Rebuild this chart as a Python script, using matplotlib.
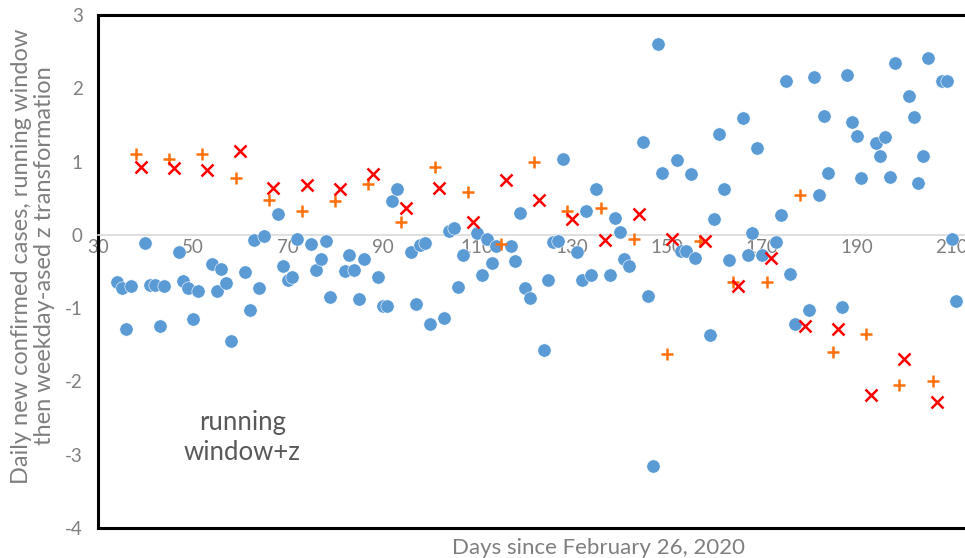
import matplotlib
matplotlib.use("Agg")
import matplotlib.pyplot as plt

plt.rcParams['font.family'] = ['Lato', 'DejaVu Sans']
plt.rcParams['axes.unicode_minus'] = False

# weekdays (Mon-Fri): blue circles
weekday_days = [34, 35, 36, 37,
                40, 41, 42, 43, 44,
                47, 48, 49, 50, 51,
                54, 55, 56, 57, 58,
                61, 62, 63, 64, 65,
                68, 69, 70, 71, 72,
                75, 76, 77, 78, 79,
                82, 83, 84, 85, 86,
                89, 90, 91, 92, 93,
                96, 97, 98, 99, 100,
                103, 104, 105, 106, 107,
                110, 111, 112, 113, 114,
                117, 118, 119, 120, 121,
                124, 125, 126, 127, 128,
                131, 132, 133, 134, 135,
                138, 139, 140, 141, 142,
                145, 146, 147, 148, 149,
                152, 153, 154, 155, 156,
                159, 160, 161, 162, 163,
                166, 167, 168, 169, 170,
                173, 174, 175, 176, 177,
                180, 181, 182, 183, 184,
                187, 188, 189, 190, 191,
                194, 195, 196, 197, 198,
                201, 202, 203, 204, 205,
                208, 209, 210, 211]
weekday_z = [-0.65, -0.73, -1.29, -0.70,
             -0.11, -0.68, -0.69, -1.24, -0.70,
             -0.23, -0.63, -0.72, -1.15, -0.76,
             -0.40, -0.77, -0.47, -0.66, -1.45,
             -0.51, -1.03, -0.07, -0.73, -0.01,
             0.28, -0.43, -0.62, -0.57, -0.05,
             -0.12, -0.48, -0.33, -0.09, -0.85,
             -0.49, -0.28, -0.48, -0.87, -0.33,
             -0.57, -0.97, -0.97, 0.46, 0.63,
             -0.24, -0.95, -0.14, -0.11, -1.21,
             -1.14, 0.05, 0.10, -0.71, -0.28,
             0.03, -0.55, -0.05, -0.39, -0.15,
             -0.15, -0.36, 0.30, -0.73, -0.86,
             -1.57, -0.61, -0.10, -0.08, 1.04,
             -0.23, -0.62, 0.33, -0.55, 0.63,
             -0.55, 0.23, 0.04, -0.33, -0.42,
             1.27, -0.84, -3.16, 2.61, 0.84,
             1.02, -0.22, -0.22, 0.83, -0.32,
             -1.37, 0.22, 1.38, 0.63, -0.34,
             1.59, -0.27, 0.03, 1.18, -0.28,
             -0.10, 0.27, 2.10, -0.53, -1.22,
             -1.03, 2.16, 0.54, 1.62, 0.84,
             -0.98, 2.18, 1.54, 1.35, 0.77,
             1.26, 1.07, 1.33, 0.79, 2.35,
             1.89, 1.61, 0.71, 1.07, 2.42,
             2.10, 2.10, -0.05, -0.90]

# saturdays: orange plus
sat_days = [38, 45, 52, 59, 66, 73, 80, 87, 94, 101, 108, 115, 122,
            129, 136, 143, 150, 157, 164, 171, 178, 185, 192, 199, 206]
sat_z = [1.11, 1.03, 1.11, 0.77, 0.47, 0.32, 0.46, 0.69, 0.17, 0.93, 0.59, -0.12, 0.99,
         0.33, 0.37, -0.05, -1.62, -0.08, -0.65, -0.64, 0.54, -1.60, -1.35, -2.05, -2.00]

# sundays: red cross
sun_days = [39, 46, 53, 60, 67, 74, 81, 88, 95, 102, 109, 116, 123,
            130, 137, 144, 151, 158, 165, 172, 179, 186, 193, 200, 207]
sun_z = [0.93, 0.91, 0.89, 1.14, 0.64, 0.68, 0.63, 0.83, 0.36, 0.64, 0.17, 0.75, 0.48,
         0.21, -0.07, 0.28, -0.05, -0.08, -0.70, -0.32, -1.25, -1.29, -2.19, -1.70, -2.28]

x_ticks = [30, 50, 70, 90, 110, 130, 150, 170, 190, 210]
y_ticks = [-4, -3, -2, -1, 0, 1, 2, 3]

grey = '#7f7f7f'

fig = plt.figure(figsize=(9.65, 5.58), dpi=100)
ax = fig.add_axes([98 / 965, 30 / 558, 867 / 965, 513 / 558])

ax.scatter(weekday_days, weekday_z, s=92, color='#5b9bd5', edgecolors='white',
           linewidths=0.4, zorder=3)
ax.plot(sat_days, sat_z, ls='none', marker='+', ms=9, mew=1.8, color='#ff700a', zorder=4)
ax.plot(sun_days, sun_z, ls='none', marker='x', ms=8.5, mew=1.8, color='#ff0000', zorder=5)

ax.set_xlim(30, 30 + 867 / 4.742)
ax.set_ylim(-4, 3)
ax.set_xticks(x_ticks)
ax.set_yticks(y_ticks)

# x axis crosses at zero, plot frame drawn in black
ax.spines['bottom'].set_position(('data', 0))
ax.spines['bottom'].set_color('#d9d9d9')
ax.spines['bottom'].set_linewidth(1.2)
ax.spines['right'].set_visible(False)
for side in ['left', 'top']:
    ax.spines[side].set_color('black')
    ax.spines[side].set_linewidth(2.2)
ax.axhline(-4, color='black', lw=2.2, clip_on=False, zorder=6)

ax.tick_params(axis='x', length=0, pad=3, labelsize=13.5, labelcolor=grey)
ax.tick_params(axis='y', length=0, pad=11, labelsize=13.5, labelcolor=grey)

fig.text(598 / 965, 1 - 548 / 558, 'Days since February 26, 2020', ha='center', va='center',
         fontsize=16, color=grey)
fig.text(33 / 965, 1 - 256 / 558,
         'Daily new confirmed cases, running window\nthen weekday-ased z transformation',
         ha='center', va='center', rotation=90, fontsize=17, color=grey,
         linespacing=1.1)

ax.text(60.4, -2.76, 'running\nwindow+z', ha='center', va='center', fontsize=18.5,
        color='#595959', linespacing=1.25)

fig.savefig('out.png', dpi=100)
